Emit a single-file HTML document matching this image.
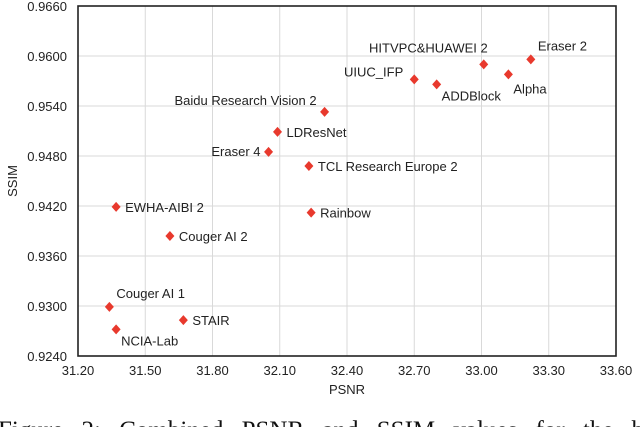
<!DOCTYPE html>
<html><head><meta charset="utf-8"><style>
body{margin:0;background:#fff;width:640px;height:427px;overflow:hidden;position:relative}
svg{position:absolute;left:0;top:0}
text{font-family:"Liberation Sans",Arial,sans-serif;font-size:13px;fill:#222}
</style></head><body>
<svg id="chart" width="640" height="427" viewBox="0 0 640 427">
<g id="grid"></g>
<g id="axes"></g>
<g id="pts"></g>
<text x="347" y="394" text-anchor="middle">PSNR</text>
<text transform="translate(17,181) rotate(-90)" text-anchor="middle">SSIM</text>
<text x="-2" y="438" style="font-family:'Liberation Serif',serif;font-size:25px;fill:#111;word-spacing:12px">Figure 2:  Combined PSNR and SSIM values for the b</text>
</svg>
<script>
const names=["Eraser 2","HITVPC&HUAWEI 2","Alpha","UIUC_IFP","ADDBlock","Baidu Research Vision 2","LDResNet","Eraser 4","TCL Research Europe 2","Rainbow","EWHA-AIBI 2","Couger AI 2","Couger AI 1","STAIR","NCIA-Lab"];
const psnr=[33.22,33.01,33.12,32.70,32.80,32.30,32.09,32.05,32.23,32.24,31.37,31.61,31.34,31.67,31.37];
const ssim=[0.9596,0.9590,0.9578,0.9572,0.9566,0.9533,0.9509,0.9485,0.9468,0.9412,0.9419,0.9384,0.9299,0.9283,0.9272];
const xTicks=[31.20,31.50,31.80,32.10,32.40,32.70,33.00,33.30,33.60];
const yTicks=[0.9240,0.9300,0.9360,0.9420,0.9480,0.9540,0.9600,0.9660];
const labelPos=["ur","uc","dr","ul","dr","ul","r","l","r","r","r","r","ur","r","dr"];
const X0=78,X1=616,Y0=356,Y1=6;
const x=v=>X0+(v-31.2)/(33.6-31.2)*(X1-X0);
const y=v=>Y0-(v-0.924)/(0.966-0.924)*(Y0-Y1);
const NS="http://www.w3.org/2000/svg";
function mk(t,a,p){const e=document.createElementNS(NS,t);for(const k in a)e.setAttribute(k,a[k]);p.appendChild(e);return e;}
const g=document.getElementById('grid'),ax=document.getElementById('axes'),pg=document.getElementById('pts');
xTicks.forEach(t=>{
 const l=mk('line',{x1:x(t),x2:x(t),y1:Y1,y2:Y0,stroke:'#d9d9d9','stroke-width':1},g);
 
 
 const tx=mk('text',{x:x(t),y:375,'text-anchor':'middle'},ax);tx.textContent=t.toFixed(2);
 
 
});
yTicks.forEach(t=>{
 const l=mk('line',{x1:X0,x2:X1,y1:y(t),y2:y(t),stroke:'#d9d9d9','stroke-width':1},g);
 
 
 const tx=mk('text',{x:67,y:y(t)+5,'text-anchor':'end'},ax);tx.textContent=t.toFixed(4);
 
 
});
const fr=mk('rect',{x:X0,y:Y1,width:X1-X0,height:Y0-Y1,fill:'none',stroke:'#222','stroke-width':1.6},ax);


names.forEach((n,i)=>{
 const cx=x(psnr[i]),cy=y(ssim[i]);
 const d=mk('polygon',{points:`${cx},${cy-5} ${cx+4.5},${cy} ${cx},${cy+5} ${cx-4.5},${cy}`,fill:'#e8392d'},pg);
 
 
 let lx=cx+9,ly=cy+5,anc='start';const p=labelPos[i];
 if(p=='ur'){lx=cx+7;ly=cy-9;}
 if(p=='uc'){lx=cx+4;ly=cy-12;anc='end';}
 if(p=='ul'){lx=cx-11;ly=cy-3;anc='end';}
 if(p=='dr'){lx=cx+5;ly=cy+16;}
 if(p=='l'){lx=cx-8;ly=cy+4;anc='end';}
 if(n=='Baidu Research Vision 2'){ly=cy-7;lx=cx-8;}
 if(n=='Alpha'){ly=cy+19;}
 const t=mk('text',{x:lx,y:ly,'text-anchor':anc},pg);t.textContent=n;
 
 
});
</script>
</body></html>
